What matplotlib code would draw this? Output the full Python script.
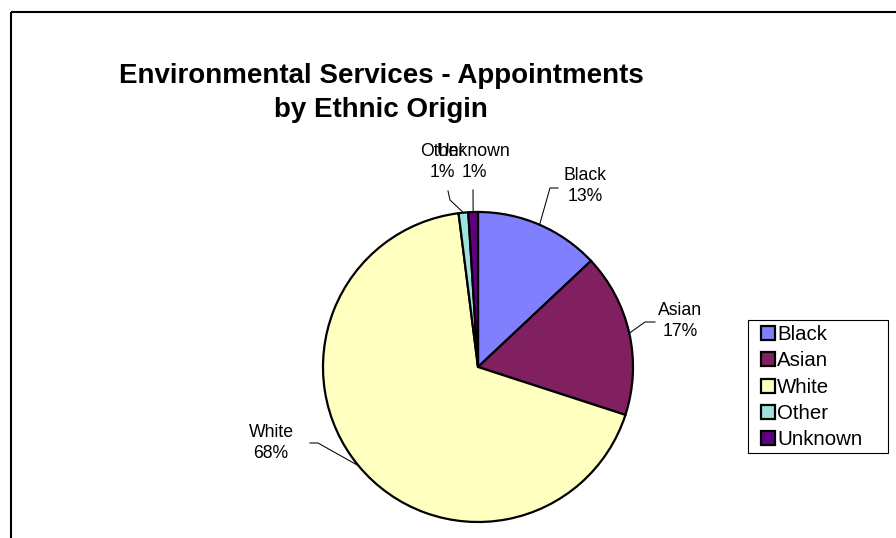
import numpy as np
import matplotlib.pyplot as plt
from matplotlib.patches import Rectangle

plt.rcParams['font.family'] = ['Liberation Sans', 'DejaVu Sans']

groups = ['Black', 'Asian', 'White', 'Other', 'Unknown']
shares = [13, 17, 68, 1, 1]
colours = ['#8080FF', '#802060', '#FFFFC0', '#A0E0E0', '#600080']
title = 'Environmental Services - Appointments\nby Ethnic Origin'

W, H = 896, 538


def px(x, y):
    # canvas pixels (y measured downwards) -> axes data units
    return x, H - y


fig = plt.figure(figsize=(W / 100, H / 100), dpi=100)
ax = fig.add_axes([0, 0, 1, 1])

cx, cy = px(478, 367)
R = 155
wedges, _ = ax.pie(shares, colors=colours, startangle=90, counterclock=False,
                   center=(cx, cy), radius=R,
                   wedgeprops=dict(edgecolor='black', linewidth=1.6))
ax.set_xlim(0, W)
ax.set_ylim(0, H)
ax.set_aspect('auto')
ax.axis('off')

# chart area border (top and left edges only fall inside the canvas)
ax.plot([11, W], [H - 12, H - 12], color='black', lw=1.5, solid_capstyle='butt')
ax.plot([11, 11], [H - 12, 0], color='black', lw=1.5, solid_capstyle='butt')

# data labels: text centre plus leader-line bend points (canvas pixels)
label_pos = [(585, 186), (680, 321), (271, 443), (442, 162), (474, 162)]
leaders = [
    [(550, 188), (558, 188)],
    [(645, 322), (655, 322)],
    [(318, 443), (310, 443)],
    [(450, 200), (448, 191)],
    [(473, 190)],
]

for w, name, val, (tx, ty), bends in zip(wedges, groups, shares, label_pos, leaders):
    mid = np.deg2rad((w.theta1 + w.theta2) / 2)
    ex, ey = cx + R * np.cos(mid), cy + R * np.sin(mid)
    xs = [ex] + [b[0] for b in bends]
    ys = [ey] + [H - b[1] for b in bends]
    ax.plot(xs, ys, color='black', lw=0.75)
    ax.text(*px(tx, ty), f'{name}\n{val}%', ha='center', va='center',
            fontsize=12.7, linespacing=1.3)

fig.text(381 / W, 1 - 93 / H, title, ha='center', va='center',
         fontsize=20, fontweight='bold', linespacing=1.38)

# legend with its own plain frame
ax.add_patch(Rectangle(px(748, 453), 140, 133, fill=False, edgecolor='black', lw=0.8))
ax.legend(wedges, groups, loc='upper left', bbox_to_anchor=(757 / W, 1 - 321 / H),
          frameon=False, fontsize=14.7, handlelength=0.69, handleheight=0.69,
          handletextpad=0.1, labelspacing=0.36, borderpad=0.2, borderaxespad=0)

fig.savefig('out.png', dpi=100, facecolor='white')
